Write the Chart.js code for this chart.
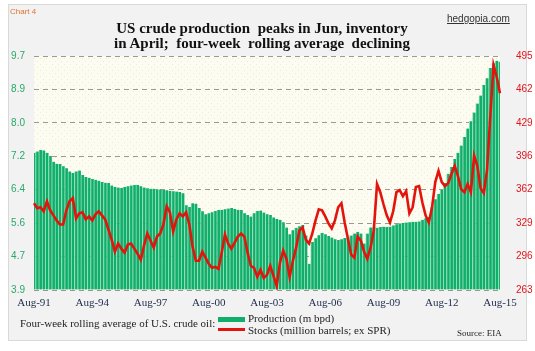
<!DOCTYPE html>
<html>
<head>
<meta charset="utf-8">
<script src="https://cdn.jsdelivr.net/npm/chart.js@4/dist/chart.umd.min.js"></script>
<style>
  body { margin: 0; background: #fff; }
  #wrap { position: relative; width: 535px; height: 351px; overflow: hidden; }
  #box { position: absolute; left: 8px; top: 4px; width: 517px; height: 335px; background: #f2f2f2; border: 1px solid #d9d9d9; }
  #c { position: absolute; left: 0; top: 0; }
  .t { position: absolute; white-space: nowrap; }
  #tag { left: 10px; top: 7px; font: 8px "Liberation Sans", sans-serif; color: #e0742c; }
  #site { left: 447px; top: 13px; font: 10px "Liberation Sans", sans-serif; color: #333; text-decoration: underline; }
  #title { left: 62px; width: 400px; top: 21px; text-align: center; font: bold 15px/15px "Liberation Serif", serif; color: #111; }
  #legtxt { left: 20px; top: 317px; font: 11px "Liberation Serif", serif; color: #222; }
  .sw { position: absolute; left: 218px; width: 27px; }
  #swp { top: 317px; height: 5px; background: #0fae6a; }
  #sws { top: 328px; height: 3px; background: #e3140c; }
  #lp { left: 248px; top: 312px; font: 11px "Liberation Serif", serif; color: #222; }
  #ls { left: 248px; top: 324px; font: 11px "Liberation Serif", serif; color: #222; }
  #src { left: 457px; top: 328px; font: 9px "Liberation Serif", serif; color: #222; }
</style>
</head>
<body>
<div id="wrap">
  <div id="box"></div>
  <canvas id="c" width="535" height="351"></canvas>
  <div class="t" id="tag">Chart 4</div>
  <div class="t" id="site">hedgopia.com</div>
  <div class="t" id="title">US crude production&nbsp; peaks in Jun, inventory<br>in April;&nbsp; four-week&nbsp; rolling average&nbsp; declining</div>
  <div class="t" id="legtxt">Four-week rolling average of U.S. crude oil:</div>
  <div class="sw" id="swp"></div>
  <div class="sw" id="sws"></div>
  <div class="t" id="lp">Production (m bpd)</div>
  <div class="t" id="ls">Stocks (million barrels; ex SPR)</div>
  <div class="t" id="src">Source: EIA</div>
</div>
<script>
// ---- data (every other month, Aug-91 .. Aug-15) ----
var startYear = 1991, startMonth = 7, stepMonths = 2;   // Aug-91
var xTickLabels = ["Aug-91", "Aug-94", "Aug-97", "Aug-00", "Aug-03", "Aug-06", "Aug-09", "Aug-12", "Aug-15"];

// production, m bpd
var production = [
  7.30, 7.33, 7.37, 7.36, 7.30, 7.22, 7.08, 7.03, 7.02, 6.97,
  6.92, 6.84, 6.80, 6.84, 6.86, 6.75, 6.70, 6.68, 6.65, 6.63,
  6.61, 6.58, 6.56, 6.55, 6.49, 6.45, 6.44, 6.43, 6.45, 6.47,
  6.49, 6.50, 6.50, 6.47, 6.44, 6.42, 6.41, 6.41, 6.40, 6.39,
  6.38, 6.37, 6.36, 6.35, 6.34, 6.33, 6.30, 6.00, 5.96, 6.05,
  6.04, 5.93, 5.85, 5.78, 5.80, 5.83, 5.86, 5.88, 5.89, 5.90,
  5.92, 5.93, 5.91, 5.89, 5.88, 5.80, 5.76, 5.72, 5.80, 5.86,
  5.87, 5.82, 5.78, 5.76, 5.70, 5.66, 5.64, 5.58, 5.45, 5.28,
  5.38, 5.44, 5.48, 5.51, 5.25, 4.55, 5.09, 5.18, 5.26, 5.31,
  5.28, 5.24, 5.20, 5.16, 5.14, 5.16, 5.19, 5.21, 5.25, 5.30,
  5.34, 5.30, 5.05, 5.30, 5.45, 5.46, 5.44, 5.46, 5.47, 5.46,
  5.47, 5.50, 5.53, 5.55, 5.56, 5.57, 5.58, 5.59, 5.59, 5.60,
  5.64, 5.68, 5.71, 5.95, 6.15, 6.28, 6.38, 6.55, 6.78, 6.95,
  7.15, 7.30, 7.48, 7.69, 7.90, 8.08, 8.30, 8.52, 8.72, 8.98,
  9.15, 9.40, 9.52, 9.58, 9.55
];

// stocks, million barrels ex SPR
var stocks = [
  349, 344, 345, 341, 351, 342, 337, 332, 328, 328,
  342, 351, 354, 334, 339, 340, 333, 336, 332, 338,
  341, 337, 333, 323, 313, 301, 309, 304, 300, 308,
  309, 304, 299, 293, 307, 319, 312, 305, 316, 319,
  328, 346, 340, 321, 333, 339, 336, 340, 328, 306,
  292, 292, 301, 295, 289, 285, 286, 284, 300, 318,
  309, 304, 310, 316, 319, 316, 300, 287, 285, 276,
  283, 275, 278, 287, 277, 267, 290, 302, 294, 276,
  292, 305, 322, 325, 313, 309, 319, 332, 343, 342,
  336, 329, 324, 332, 345, 349, 330, 314, 298, 295,
  316, 312, 301, 294, 305, 322, 368, 360, 348, 337,
  330, 341, 360, 362, 356, 361, 339, 345, 365, 366,
  350, 337, 330, 345, 370, 381, 370, 366, 369, 378,
  386, 376, 363, 360, 368, 360, 396, 386, 364, 359,
  382, 435, 486, 474, 458
];

// axis tick labels (8 evenly spaced ticks on each side)
var prodTickLabels = ["3.9", "4.7", "5.6", "6.4", "7.2", "8.0", "8.9", "9.7"];
var stockTickLabels = ["263", "296", "329", "362", "396", "429", "462", "495"];

var monthNames = ["Jan", "Feb", "Mar", "Apr", "May", "Jun", "Jul", "Aug", "Sep", "Oct", "Nov", "Dec"];
var categories = [];
for (var i = 0; i < production.length; i++) {
  var m = startMonth + i * stepMonths;
  var yr = (startYear + Math.floor(m / 12)) % 100;
  categories.push(monthNames[m % 12] + "-" + (yr < 10 ? "0" : "") + yr);
}

function evenTicks(labels) {
  return function (scale) {
    var lo = scale.options.min, hi = scale.options.max, n = labels.length - 1;
    scale.ticks = labels.map(function (l, k) { return { value: lo + k * (hi - lo) / n }; });
  };
}

//- plot area background (cream with faint dots)
var dot = document.createElement("canvas");
dot.width = 6; dot.height = 6;
var dctx = dot.getContext("2d");
dctx.fillStyle = "#fdfcf2";
dctx.fillRect(0, 0, 6, 6);
dctx.fillStyle = "#f1ecc4";
dctx.fillRect(1, 1, 1, 1);
dctx.fillRect(4, 4, 1, 1);

var plotBg = {
  id: "plotBg",
  beforeDraw: function (chart) {
    var a = chart.chartArea, ctx = chart.ctx;
    ctx.save();
    ctx.fillStyle = ctx.createPattern(dot, "repeat");
    ctx.fillRect(a.left, a.top, a.right - a.left, a.bottom - a.top);
    ctx.restore();
  }
};

var ctx = document.getElementById("c").getContext("2d");
new Chart(ctx, {
  data: {
    labels: categories,
    datasets: [
      {
        type: "line",
        label: "Stocks (million barrels; ex SPR)",
        data: stocks,
        yAxisID: "y1",
        borderColor: "#e3140c",
        borderWidth: 2.6,
        pointRadius: 0,
        tension: 0,
        order: 0
      },
      {
        type: "bar",
        label: "Production (m bpd)",
        data: production,
        yAxisID: "y",
        base: 3.9,
        backgroundColor: "#0fae6a",
        borderColor: "#8fdcb5",
        borderWidth: { left: 1, right: 0, top: 0, bottom: 0 },
        borderSkipped: false,
        barPercentage: 1,
        categoryPercentage: 1,
        order: 1
      }
    ]
  },
  options: {
    responsive: false,
    animation: false,
    layout: { padding: { top: 56, bottom: 36, left: 0, right: 0 } },
    plugins: {
      legend: { display: false },
      tooltip: { enabled: false }
    },
    scales: {
      x: {
        offset: false,
        grid: { display: false, drawTicks: false },
        border: { display: false },
        afterFit: function (s) { s.height = 25; },
        ticks: {
          autoSkip: false,
          maxRotation: 0,
          padding: 7,
          color: "#1f2b4d",
          font: { family: "Liberation Serif", size: 11 },
          callback: function (v, idx) {
            var l = categories[idx];
            return xTickLabels.indexOf(l) >= 0 ? l : "";
          }
        }
      },
      y: {
        position: "left",
        min: 3.9,
        max: 9.7,
        z: 1,
        afterBuildTicks: evenTicks(prodTickLabels),
        afterFit: function (s) { s.width = 34; },
        border: { display: false, dash: [5, 4] },
        grid: { color: "rgba(100,100,100,0.65)", drawTicks: false },
        ticks: {
          padding: 9,
          color: "#2aa86a",
          font: { family: "Liberation Sans", size: 10 },
          callback: function (v, idx) { return prodTickLabels[idx]; }
        }
      },
      y1: {
        position: "right",
        min: 263,
        max: 495,
        afterBuildTicks: evenTicks(stockTickLabels),
        afterFit: function (s) { s.width = 35; },
        border: { display: false },
        grid: { display: false },
        ticks: {
          padding: 8,
          color: "#e3141a",
          font: { family: "Liberation Sans", size: 10 },
          callback: function (v, idx) { return stockTickLabels[idx]; }
        }
      }
    }
  },
  plugins: [plotBg]
});
</script>
</body>
</html>
